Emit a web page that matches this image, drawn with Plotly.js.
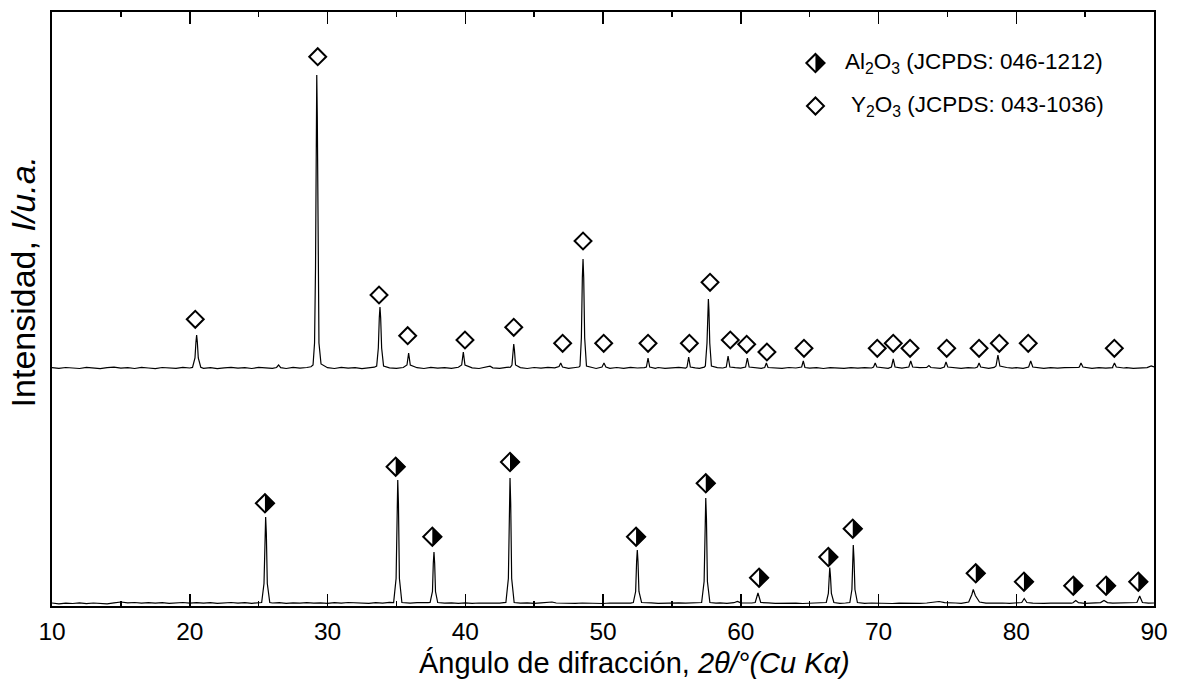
<!DOCTYPE html>
<html>
<head>
<meta charset="utf-8">
<script src="https://cdn.plot.ly/plotly-3.0.1.min.js"></script>
<style>html,body{margin:0;padding:0;background:#fff;}#chart{width:1178px;height:692px;}</style>
</head>
<body>
<div id="chart"></div>
<script>
// ---- Y2O3 pattern (2theta, intensity above its own baseline, a.u.) ----
var y2o3_2theta = [10,10.5,11,11.5,12,12.5,13,13.5,14,14.5,15,15.5,16,16.5,17,17.5,18,18.5,19,19.5,20,
  20.2,20.38,20.45,20.5,20.55,20.62,20.8,
  21,21.5,22,22.5,23,23.5,24,24.5,25,25.5,26,26.3,26.45,26.6,27,27.5,28,28.5,28.8,
  28.95,29.06,29.13,29.18,29.22,29.26,29.31,29.38,29.53,
  29.8,30,30.5,31,31.5,32,32.5,33,33.4,
  33.57,33.69,33.76,33.81,33.86,33.93,34.07,
  34.5,35,35.5,35.77,35.89,36.01,36.5,37,37.5,38,38.5,39,39.5,39.74,39.86,39.98,40.5,41,41.5,41.8,42,42.5,43,43.28,
  43.39,43.47,43.52,43.57,43.65,
  44,44.5,45,45.5,46,46.5,46.81,46.93,47.06,47.5,48,48.25,
  48.33,48.43,48.5,48.55,48.6,48.67,48.8,
  49.2,49.5,49.93,50.07,50.21,50.5,51,51.5,52,52.5,53,53.15,53.27,53.39,53.8,54,54.5,55,55.5,56,56.1,56.22,56.34,56.7,57,57.35,
  57.43,57.55,57.61,57.65,57.69,57.75,57.87,
  58.3,58.7,58.95,59.08,59.21,59.6,60,60.35,60.48,60.61,61,61.5,61.74,61.86,61.98,62.5,63,63.5,64,64.42,64.54,64.66,65,65.5,66,66.5,67,67.5,68,68.5,69,69.5,69.64,69.76,69.88,70.3,70.7,70.94,71.07,71.2,71.7,72.2,72.34,72.48,73,73.5,73.66,73.8,74,74.5,74.78,74.9,75.03,75.5,76,76.5,77,77.18,77.3,77.42,78,78.4,78.53,78.67,78.81,79.3,79.7,80,80.5,80.9,81.05,81.2,81.7,82,82.5,83,83.5,84,84.5,84.58,84.7,84.84,85.5,86,86.5,87,87.0,87.13,87.26,87.8,88,88.5,89,89.5,89.8,90];
var y2o3_int = [0.3,-0.4,0.5,0,-0.5,0.6,0.1,-0.6,0.4,0.8,-0.2,0.3,-0.5,0.6,0,-0.7,0.5,0.2,-0.4,0.7,0,
  0.6,10,26,33,26,10,0.8,
  -0.3,0.4,-0.6,0.2,0.7,-0.2,0.3,-0.5,0.6,0.1,-0.4,0.5,3,0.4,-0.5,0.6,-0.2,0.5,1.2,
  3,25,100,250,293,250,100,25,4,
  1.5,0.3,-0.5,0.6,-0.2,0.4,-0.6,0.5,0.8,
  2,20,50,61,50,20,2,
  0.2,-0.4,0.5,3,15,3,0.3,-0.5,0.6,-0.2,0.4,-0.4,0.7,3,16,3,0.2,-0.5,0.6,1.8,0.2,-0.4,0.6,0.9,
  3,18,24,18,3,
  0.4,-0.5,0.5,-0.2,0.6,0.1,1.5,5,1,-0.4,0.5,1,
  2,30,90,109,90,30,2,
  0.3,-0.5,1,5,1,-0.3,0.5,-0.4,0.6,0,0.4,1,10,1,-0.3,0.5,-0.4,0.3,0.6,-0.2,1,11,1,0.2,-0.3,0.8,
  2,25,58,69,58,25,2,
  0.4,0,1,12,1,0.3,-0.2,1,10,1,0.2,-0.4,0.5,5,0.5,0.3,-0.4,0.5,0,1,7,0.5,-0.2,0.4,-0.5,0.3,0.2,-0.4,0.3,-0.2,0.4,0,1,5,1,0.3,-0.3,1,9,1,-0.2,1,7,1,0.4,0.6,2.5,0.5,0.4,-0.3,1,6,1,0.3,-0.4,0.4,0,1,5,1,-0.3,0.6,2,13,2,0.5,-0.2,0.3,-0.3,1,7,1,0.2,-0.4,0.3,-0.2,0.4,0.1,0.5,1,5,1,-0.3,0.4,-0.2,0.3,1,5,1,0,0.4,-0.3,0.2,0.4,2,1];
var y2o3_offset = 238;

// ---- Al2O3 pattern ----
var al2o3_2theta = [10,10.5,11,11.5,12,12.5,13,13.5,14,14.5,15,15.5,16,16.5,17,17.5,18,18.5,19,19.5,20,20.5,21,21.5,22,22.5,23,23.5,24,24.5,24.9,
  25.22,25.39,25.46,25.51,25.56,25.63,25.81,
  26,26.5,27,27.5,28,28.5,29,29.5,30,30.5,31,31.5,32,32.5,33,33.5,34,34.5,34.8,
  34.98,35.05,35.1,35.15,35.22,35.4,
  35.7,36,36.5,37,37.3,37.45,37.62,37.68,37.73,37.78,37.84,38,38.5,39,39.5,40,40.5,41,41.5,42,42.5,42.8,
  42.95,43.13,43.2,43.25,43.3,43.37,43.55,
  44,44.5,45,45.5,46,46.3,46.6,47,47.5,48,48.5,49,49.5,50,50.5,51,51.5,52,
  52.2,52.37,52.44,52.49,52.54,52.61,52.8,
  53.2,53.5,54,54.5,55,55.5,56,56.5,57,
  57.16,57.34,57.41,57.46,57.51,57.58,57.76,
  58.2,58.5,59,59.5,59.76,60,60.5,60.8,61.05,61.25,61.45,61.8,62,62.5,63,63.5,64,64.5,65,65.5,66,
  66.21,66.36,66.42,66.46,66.51,66.58,66.76,
  67.2,67.6,67.92,68.07,68.13,68.17,68.22,68.29,68.47,
  69,69.5,70,70.5,71,71.5,72,72.5,73,73.5,74,74.4,74.8,75.2,75.6,76,76.3,76.55,76.78,76.88,77.03,77.33,77.8,78.2,78.6,79,79.5,80,80.4,80.58,80.77,81.2,81.6,82,82.5,83,83.5,84,84.12,84.32,84.52,85,85.5,86,86.12,86.37,86.62,87,87.5,88,88.5,88.76,88.96,89.16,89.6,90];
var al2o3_int = [0.5,-0.3,0.4,0,0.6,-0.2,0.5,0.1,-0.3,0.6,1.5,0.7,1,0.4,0.9,0.3,0.8,0.2,0.6,1,0.4,0.9,0.3,0.8,0.2,0.7,1,0.3,0.8,0.2,0.7,
  1,20,70,86.5,70,20,1,
  0.5,0.9,0.2,0.7,0.4,0.9,0.3,0.6,0.1,0.8,0.4,1,0.5,0.7,0.2,0.9,0.4,1.2,1,
  25,100,123.5,100,25,1,
  0.6,0.3,0.8,0.4,0.9,1,12,40,51.5,40,12,1,0.3,0.7,0.2,0.6,0.1,0.5,0.2,0.6,0.3,0.8,
  1,25,100,125.5,100,25,1,
  0.4,0.6,0.1,0.7,1,1.5,0.5,0.3,0.6,0.1,0.5,0.2,0.6,0,0.5,0.2,0.6,0.3,
  1,12,42,53.5,42,12,1,
  0.4,0.6,0.1,0.5,0.2,0.6,0.3,0.5,0.8,
  1,22,85,105.5,85,22,1,
  0.3,0.6,0.2,0.8,2,0.6,0.2,0.5,1,10.5,1,0.3,0.6,0.2,0.5,0.1,0.4,0,0.3,0.1,0.4,
  1,10,28,36,28,10,1,
  0.2,0.5,1,14,45,58.5,45,14,1,
  0.2,0.5,0.1,0.4,0,0.3,0.1,0.4,0.2,0.5,1,2,0.8,0.3,0.5,0.2,0.6,1.5,9,14,8,1.5,0.4,0.6,0.2,0.5,0.1,0.4,1,5,1,0.3,0.6,0.2,0.4,0.1,0.5,0.3,0.8,3,0.8,0.2,0.5,0.3,0.9,3,0.9,0.3,0.6,0.2,0.5,1,7.5,1,0.3,0.5];
var al2o3_offset = 2.5;

// ---- Phase markers ----
var y2o3_mark_x = [20.40,29.29,33.74,35.82,39.98,43.52,47.07,48.55,50.05,53.27,56.27,57.77,59.24,60.43,61.90,64.59,69.91,71.07,72.29,74.95,77.30,78.77,80.87,87.12];
var y2o3_mark_y = [286.7,549.3,311,270.3,266,278.7,262.7,365,262.7,262.7,262.7,323.7,266,261.7,254,257.7,257.7,262.7,257.7,257.7,257.7,262.7,262.7,257.7];
var al2o3_mark_x = [25.46,34.95,37.61,43.25,52.40,57.46,61.33,66.36,68.13,77.06,80.56,84.14,86.52,88.86];
var al2o3_mark_y = [102.7,139.3,69.3,144,69.3,122.7,28.3,49,77.3,32.7,24.3,20.3,20.3,24.3];

// ---- Texts ----
var legend_labels = ["Al<sub>2</sub>O<sub>3</sub> (JCPDS: 046-1212)", "Y<sub>2</sub>O<sub>3</sub> (JCPDS: 043-1036)"];
var x_title = "Ángulo de difracción, <i>2θ/°(Cu Kα)</i>";
var y_title = "Intensidad, <i>I/u.a.</i>";
var x_ticks = [10,20,30,40,50,60,70,80,90];

var FONT = "Liberation Sans, Arial, sans-serif";

var y2o3_y = y2o3_int.map(function(v){return v + y2o3_offset;});
var al2o3_y = al2o3_int.map(function(v){return v + al2o3_offset;});

var traces = [
  {x: y2o3_2theta, y: y2o3_y, type: 'scatter', mode: 'lines', line: {color: '#000', width: 1.2}, hoverinfo: 'skip'},
  {x: al2o3_2theta, y: al2o3_y, type: 'scatter', mode: 'lines', line: {color: '#000', width: 1.2}, hoverinfo: 'skip'},
  {x: y2o3_mark_x, y: y2o3_mark_y, type: 'scatter', mode: 'markers',
   marker: {symbol: 'diamond-open', size: 13, color: '#000', line: {color: '#000', width: 2}}},
  {x: al2o3_mark_x, y: al2o3_mark_y, type: 'scatter', mode: 'markers',
   marker: {symbol: 'diamond', size: 14, color: '#fff', line: {color: '#000', width: 2}}}
];

var halfPath = 'M0,-9.6 L9.6,0 L0,9.6 Z';
var shapes = al2o3_mark_x.map(function(x, i){
  return {type: 'path', xref: 'x', yref: 'y', xsizemode: 'pixel', ysizemode: 'pixel',
    xanchor: x, yanchor: al2o3_mark_y[i], path: halfPath, fillcolor: '#000', line: {width: 0}, layer: 'above'};
});
// legend symbols (paper coordinates)
var legX = 0.6928, legY1 = 0.9141, legY2 = 0.8418;
shapes.push({type: 'path', xref: 'paper', yref: 'paper', xsizemode: 'pixel', ysizemode: 'pixel',
  xanchor: legX, yanchor: legY1, path: 'M-9.1,0 L0,9.1 L9.1,0 L0,-9.1 Z', fillcolor: '#fff', line: {color: '#000', width: 2}, layer: 'above'});
shapes.push({type: 'path', xref: 'paper', yref: 'paper', xsizemode: 'pixel', ysizemode: 'pixel',
  xanchor: legX, yanchor: legY1, path: halfPath, fillcolor: '#000', line: {width: 0}, layer: 'above'});
shapes.push({type: 'path', xref: 'paper', yref: 'paper', xsizemode: 'pixel', ysizemode: 'pixel',
  xanchor: legX, yanchor: legY2, path: 'M-8.5,0 L0,8.5 L8.5,0 L0,-8.5 Z', fillcolor: 'rgba(0,0,0,0)', line: {color: '#000', width: 2}, layer: 'above'});

var annotations = [
  {xref: 'paper', yref: 'paper', x: 0.718, y: legY1, xanchor: 'left', yanchor: 'middle', showarrow: false,
   text: legend_labels[0], font: {family: FONT, size: 22.5, color: '#000'}},
  {xref: 'paper', yref: 'paper', x: 0.7235, y: legY2, xanchor: 'left', yanchor: 'middle', showarrow: false,
   text: legend_labels[1], font: {family: FONT, size: 22.5, color: '#000'}},
  {xref: 'paper', yref: 'paper', x: 0.529, y: -0.096, xanchor: 'center', yanchor: 'middle', showarrow: false,
   text: x_title, font: {family: FONT, size: 29, color: '#000'}},
  {xref: 'paper', yref: 'paper', x: -0.0262, y: 0.545, xanchor: 'center', yanchor: 'middle', showarrow: false, textangle: -90,
   text: y_title, font: {family: FONT, size: 34, color: '#000'}}
];

var layout = {
  width: 1178, height: 692,
  margin: {l: 52, r: 24, t: 12, b: 86},
  paper_bgcolor: '#fff', plot_bgcolor: '#fff',
  showlegend: false,
  font: {family: FONT, color: '#000'},
  xaxis: {range: [10, 90], tickvals: x_ticks, ticktext: x_ticks.map(String), ticks: 'inside', ticklen: 12, tickwidth: 1.5, tickcolor: '#000',
    showline: true, linewidth: 2, linecolor: '#000', mirror: 'ticks', showgrid: false, zeroline: false,
    ticklabelstandoff: 3,
    tickfont: {family: FONT, size: 24.5, color: '#000'},
    minor: {dtick: 5, tick0: 5, ticks: 'inside', ticklen: 5, tickwidth: 1.5, tickcolor: '#000', showgrid: false}},
  yaxis: {range: [0, 594], showticklabels: false, ticks: '', showline: true, linewidth: 2, linecolor: '#000', mirror: true,
    showgrid: false, zeroline: false},
  shapes: shapes,
  annotations: annotations
};

Plotly.newPlot('chart', traces, layout, {displayModeBar: false, staticPlot: true});
</script>
</body>
</html>
